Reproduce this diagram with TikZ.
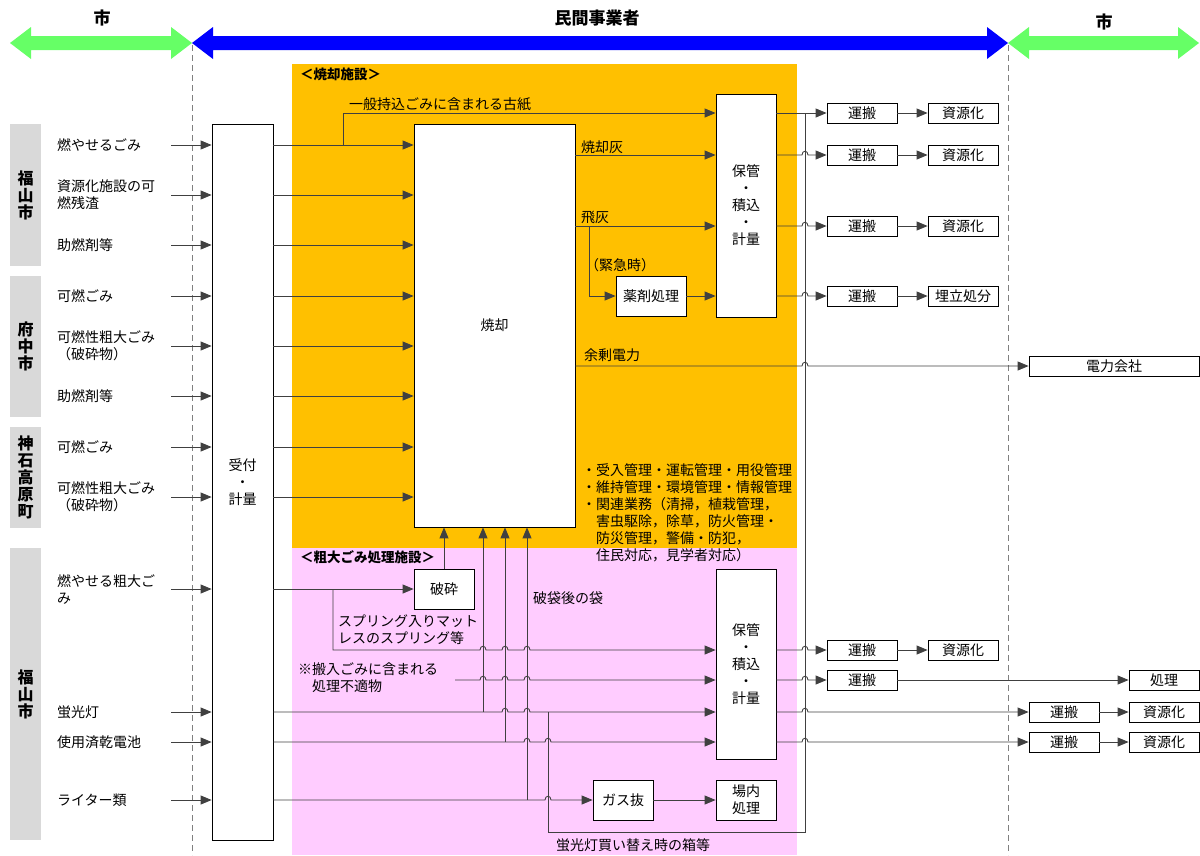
\documentclass[tikz,border=0pt]{standalone}
\usepackage{fontspec}
\setmainfont{Noto Sans CJK JP}
\usetikzlibrary{arrows.meta}
\definecolor{shoukyakuorange}{HTML}{FFC000}
\definecolor{sodaipink}{HTML}{FFCCFF}
\definecolor{bargray}{HTML}{D9D9D9}
\definecolor{citygreen}{HTML}{66FF66}
\definecolor{linegray}{HTML}{404040}
% small jump over a crossing line
\newcommand{\hop}[2]{-- (#1-3,#2) .. controls (#1-3,#2-5) and (#1+3,#2-5) .. (#1+3,#2)}
% wide double-headed arrow of the header
\newcommand{\dblarrow}[3]{\fill[#1] (#2,43) -- (#2+21,27) -- (#2+21,36) -- (#3-21,36) -- (#3-21,27) -- (#3,43) -- (#3-21,59) -- (#3-21,50) -- (#2+21,50) -- (#2+21,59) -- cycle;}

\begin{document}
\begin{tikzpicture}[x=1pt,y=-1pt,
	every node/.style={font=\fontsize{14}{17}\selectfont, inner sep=0pt},
	box/.style={draw=black, fill=white, line width=0.8pt, align=center},
	smallbox/.style={box, minimum width=70pt, minimum height=20pt},
	flow/.style={draw=linegray, line width=0.9pt, -{Triangle[length=11pt,width=9pt]}},
	wire/.style={draw=linegray, line width=0.9pt},
	lbl/.style={anchor=west, align=left},
	bar/.style={fill=bargray, minimum width=31pt, align=center, font=\fontsize{16}{17}\selectfont\bfseries},
	head/.style={font=\fontsize{17}{20}\selectfont\bfseries},
	area/.style={anchor=west, font=\fontsize{13.5}{16}\selectfont\bfseries}]
	\useasboundingbox (0,0) rectangle (1200,855);
	% header
	\dblarrow{citygreen}{10}{192}
	\dblarrow{blue}{192}{1008}
	\dblarrow{citygreen}{1008}{1199}
	\node[head] (shiL) at (102,18) {市};
	\node[head] (minkan) at (597,18) {民間事業者};
	\node[head] (shiR) at (1104,22) {市};
	\draw[gray, line width=0.8pt, dash pattern=on 6pt off 4pt] (192,45) -- (192,855);
	\draw[gray, line width=0.8pt, dash pattern=on 6pt off 4pt] (1008,45) -- (1008,855);
	% facilities
	\fill[shoukyakuorange] (292,64) rectangle (797,548);
	\fill[sodaipink] (292,548) rectangle (797,855);
	\node[area] (shoukyakuT) at (300,74) {＜焼却施設＞};
	\node[area] (sodaiT) at (300,557) {＜粗大ごみ処理施設＞};
	% municipalities
	\node[bar, minimum height=142pt] (fukuyamaA) at (25.5,195) {福\\山\\市};
	\node[bar, minimum height=141pt] (fuchu) at (25.5,346.5) {府\\中\\市};
	\node[bar, minimum height=101pt] (jinseki) at (25.5,477.5) {神\\石\\高\\原\\町};
	\node[bar, minimum height=292pt] (fukuyamaB) at (25.5,694) {福\\山\\市};
	% waste kinds
	\node[lbl] (moyaseru) at (57,145) {燃やせるごみ};
	\node[lbl] (zansa) at (57,195) {資源化施設の可\\燃残渣};
	\node[lbl] (jonenA) at (57,245) {助燃剤等};
	\node[lbl] (kanenA) at (57,296) {可燃ごみ};
	\node[lbl] (sodaiA) at (57,346) {可燃性粗大ごみ\\（破砕物）};
	\node[lbl] (jonenB) at (57,396) {助燃剤等};
	\node[lbl] (kanenB) at (57,447) {可燃ごみ};
	\node[lbl] (sodaiB) at (57,497) {可燃性粗大ごみ\\（破砕物）};
	\node[lbl] (moyaseruS) at (57,589) {燃やせる粗大ご\\み};
	\node[lbl] (keikou) at (57,712) {蛍光灯};
	\node[lbl] (denchi) at (57,742) {使用済乾電池};
	\node[lbl] (raita) at (57,800) {ライター類};
	% boxes
	\node[box, minimum width=61pt, minimum height=716pt] (uketsuke) at (242.5,482) {受付\\・\\計量};
	\node[box, minimum width=161pt, minimum height=403pt] (shoukyaku) at (494.5,325.5) {焼却};
	\node[box, minimum width=60pt, minimum height=223pt] (hokanA) at (746,205.5) {保管\\・\\積込\\・\\計量};
	\node[box, minimum width=70pt, minimum height=40pt] (yakuzai) at (651,296) {薬剤処理};
	\node[smallbox] (unpanA) at (862,113) {運搬};
	\node[smallbox] (unpanB) at (862,155) {運搬};
	\node[smallbox] (unpanC) at (862,226) {運搬};
	\node[smallbox] (unpanD) at (862,296) {運搬};
	\node[smallbox] (shigenA) at (963,113) {資源化};
	\node[smallbox] (shigenB) at (963,155) {資源化};
	\node[smallbox] (shigenC) at (963,226) {資源化};
	\node[smallbox] (umetate) at (963,296) {埋立処分};
	\node[box, minimum width=170pt, minimum height=20pt] (denryoku) at (1114,366) {電力会社};
	\node[box, minimum width=60pt, minimum height=40pt] (hasai) at (444,589) {破砕};
	\node[box, minimum width=60pt, minimum height=190pt] (hokanB) at (746,664) {保管\\・\\積込\\・\\計量};
	\node[box, minimum width=60pt, minimum height=40pt] (gasunuki) at (623,800) {ガス抜};
	\node[box, minimum width=60pt, minimum height=40pt] (jounai) at (746,800) {場内\\処理};
	\node[smallbox] (unpanE) at (862,650) {運搬};
	\node[smallbox] (shigenE) at (963,650) {資源化};
	\node[smallbox] (unpanF) at (862,680) {運搬};
	\node[smallbox] (shori) at (1164,680) {処理};
	\node[smallbox] (unpanG) at (1064,712) {運搬};
	\node[smallbox] (shigenG) at (1164,712) {資源化};
	\node[smallbox] (unpanH) at (1064,742) {運搬};
	\node[smallbox] (shigenH) at (1164,742) {資源化};
	% texts on the flows
	\node[anchor=south west] (kami) at (349,111) {一般持込ごみに含まれる古紙};
	\node[anchor=south west] (shoukyakubai) at (581,154) {焼却灰};
	\node[anchor=south west] (hibai) at (581,224) {飛灰};
	\node (kinkyu) at (620,265) {（緊急時）};
	\node[anchor=south west] (yojou) at (584,362) {余剰電力};
	\node[lbl] (kanri) at (582,512.5) {・受入管理・運転管理・用役管理\\・維持管理・環境管理・情報管理\\・関連業務（清掃，植栽管理，\\　害虫駆除，除草，防火管理・\\　防災管理，警備・防犯，\\　住民対応，見学者対応）};
	\node[lbl] (spring) at (338,630) {スプリング入りマット\\レスのスプリング等};
	\node[lbl] (futeki) at (298,678) {※搬入ごみに含まれる\\　処理不適物};
	\node (habukuro) at (568,598) {破袋後の袋};
	\node (hako) at (633,845) {蛍光灯買い替え時の箱等};
	% into reception
	\foreach \y [count=\i] in {145,195,245,296,346,396,447,497,589,712,742,800} {
		\coordinate (in\i) at (171,\y);
		\draw[flow] (in\i) -- (uketsuke.west |- in\i);
	}
	% reception to incineration
	\foreach \y in {145,195,245,296,346,396,447,497}
		\draw[flow] (uketsuke.east |- 0,\y) -- (shoukyaku.west |- 0,\y);
	\coordinate (kamiJ) at (343,145);
	\draw[flow] (kamiJ) |- (hokanA.west |- unpanA);
	\draw[flow] (shoukyaku.east |- unpanB) -- (hokanA.west |- unpanB);
	\draw[flow] (shoukyaku.east |- unpanC) -- (hokanA.west |- unpanC);
	\coordinate (hibaiJ) at (589,226);
	\draw[flow] (hibaiJ) |- (yakuzai.west);
	\draw[flow] (yakuzai.east) -- (hokanA.west |- yakuzai.east);
	\draw[flow] (shoukyaku.east |- denryoku) \hop{805}{366} -- (denryoku.west);
	% out of storage
	\draw[flow] (hokanA.east |- unpanA) -- (unpanA.west);
	\draw[flow] (hokanA.east |- unpanB) \hop{805}{155} -- (unpanB.west);
	\draw[flow] (hokanA.east |- unpanC) \hop{805}{226} -- (unpanC.west);
	\draw[flow] (hokanA.east |- unpanD) \hop{805}{296} -- (unpanD.west);
	\draw[flow] (unpanA.east) -- (shigenA.west);
	\draw[flow] (unpanB.east) -- (shigenB.west);
	\draw[flow] (unpanC.east) -- (shigenC.west);
	\draw[flow] (unpanD.east) -- (umetate.west);
	% bulky waste facility
	\draw[flow] (uketsuke.east |- hasai) -- (hasai.west);
	\draw[flow] (hasai.north) -- (hasai.north |- shoukyaku.south);
	\coordinate (springJ) at (333,589);
	\draw[flow] (springJ) -- (333,650) \hop{483}{650} \hop{505}{650} \hop{527}{650} -- (hokanB.west |- unpanE);
	\coordinate (futekiS) at (455,680);
	\draw[flow] (futekiS) \hop{483}{680} \hop{505}{680} \hop{527}{680} -- (hokanB.west |- unpanF);
	\draw[flow] (uketsuke.east |- in10) \hop{505}{712} \hop{527}{712} -- (hokanB.west |- in10);
	\draw[flow] (uketsuke.east |- in11) \hop{527}{742} \hop{548}{742} -- (hokanB.west |- in11);
	\draw[flow] (uketsuke.east |- gasunuki) \hop{548}{800} -- (gasunuki.west);
	\draw[flow] (gasunuki.east) -- (jounai.west);
	\coordinate (keikouJ) at (483,712);
	\coordinate (denchiJ) at (505,742);
	\coordinate (raitaJ) at (527,800);
	\draw[flow] (keikouJ) -- (keikouJ |- shoukyaku.south);
	\draw[flow] (denchiJ) -- (denchiJ |- shoukyaku.south);
	\draw[flow] (raitaJ) -- (raitaJ |- shoukyaku.south);
	\coordinate (hakoJ) at (548,712);
	\draw[wire] (hakoJ) -- (548,832) -- (805,832) -- (805,113);
	\draw[flow] (hokanB.east |- unpanE) \hop{805}{650} -- (unpanE.west);
	\draw[flow] (hokanB.east |- unpanF) \hop{805}{680} -- (unpanF.west);
	\draw[flow] (hokanB.east |- unpanG) \hop{805}{712} -- (unpanG.west);
	\draw[flow] (hokanB.east |- unpanH) \hop{805}{742} -- (unpanH.west);
	\draw[flow] (unpanE.east) -- (shigenE.west);
	\draw[flow] (unpanF.east) -- (shori.west);
	\draw[flow] (unpanG.east) -- (shigenG.west);
	\draw[flow] (unpanH.east) -- (shigenH.west);
\end{tikzpicture}
\end{document}
